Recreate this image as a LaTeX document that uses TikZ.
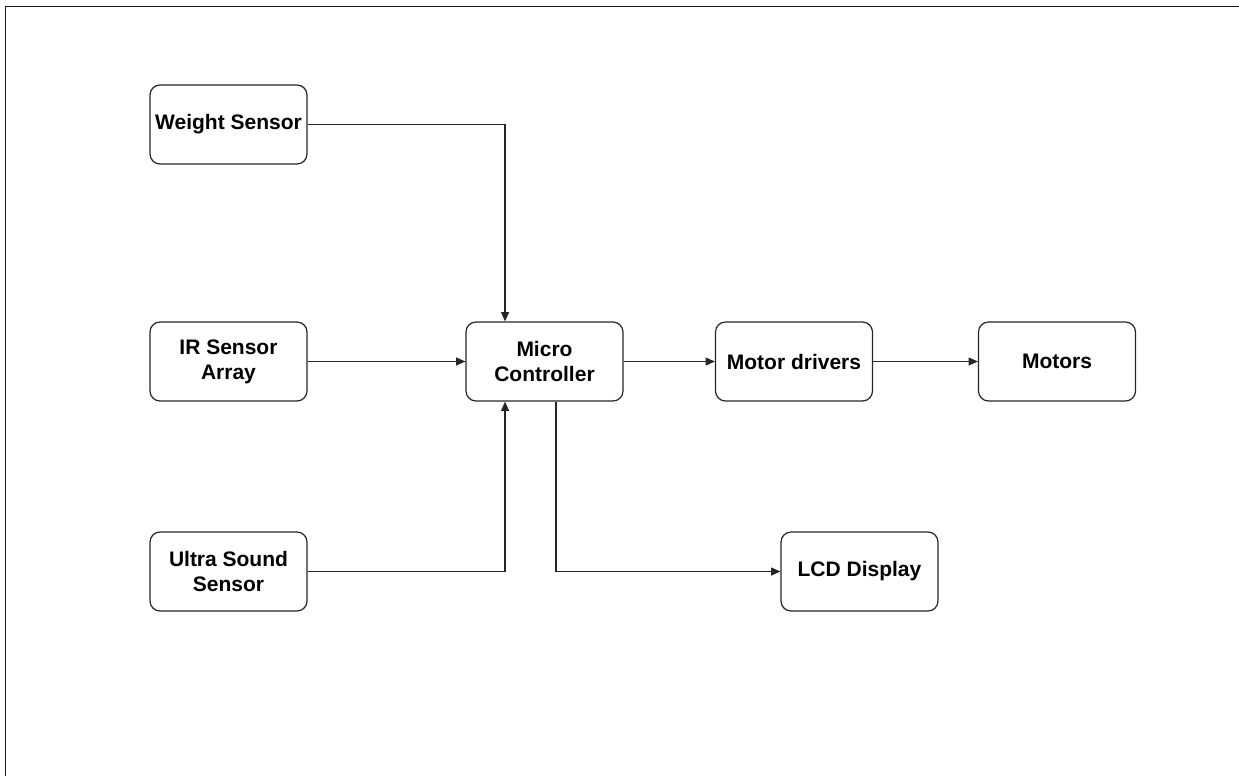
\documentclass[tikz,border=0pt]{standalone}
\usepackage{fontspec}
\setmainfont{Liberation Sans}
\usetikzlibrary{arrows.meta}
\begin{document}
\begin{tikzpicture}[x=0.75pt,y=-0.75pt,
  block/.style={draw=black!85, line width=0.9pt, rounded corners=7.5pt,
    minimum width=117.75pt, minimum height=59.25pt, align=center, inner sep=0pt,
    font=\fontsize{15.75}{18.9}\selectfont\bfseries},
  link/.style={draw=black!85, line width=0.9pt, -{Triangle[length=7pt,width=6pt]}},
  frame/.style={draw=black!90, line width=1.2pt}]
\useasboundingbox (0,0) rectangle (1239,776);
% outer frame (only top and left edges fall inside the page)
\draw[frame] (5.5,776) -- (5.5,6.5) -- (1239,6.5);

% blocks
\node[block] (weight) at (228.5,124.5) {Weight Sensor};
\node[block] (ir)     at (228.5,361.5) {IR Sensor\\Array};
\node[block] (us)     at (228.5,571.5) {Ultra Sound\\Sensor};
\node[block] (mc)     at (544.5,361.5) {Micro\\Controller};
\node[block] (md)     at (794,361.5)   {Motor drivers};
\node[block] (motors) at (1057,361.5)  {Motors};
\node[block] (lcd)    at (859.5,571.5) {LCD Display};

% connectors
\draw[link] (weight.east) -| ([xshift=-29.6pt]mc.north);
\draw[link] (ir.east) -- (mc.west);
\draw[link] (us.east) -| ([xshift=-29.6pt]mc.south);
\draw[link] (mc.east) -- (md.west);
\draw[link] (md.east) -- (motors.west);
\draw[link] ([xshift=8.6pt]mc.south) |- (lcd.west);
\end{tikzpicture}
\end{document}
